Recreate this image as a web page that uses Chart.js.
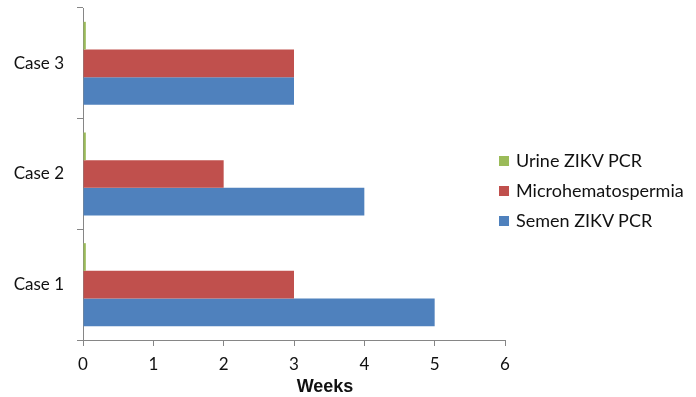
<!DOCTYPE html>
<html>
<head>
<meta charset="utf-8">
<script src="https://cdn.jsdelivr.net/npm/chart.js@4"></script>
<style>
  html, body { margin: 0; padding: 0; background: #fff; }
  #wrap { position: relative; width: 696px; height: 397px; }
  #legend { position: absolute; left: 499px; top: 147px; font-family: Lato, "Open Sans", sans-serif; font-size: 18px; color: #111; }
  #legend div { height: 30px; line-height: 26px; white-space: nowrap; }
  #legend span.box { display: inline-block; width: 10px; height: 10px; margin-right: 7px; vertical-align: 1px; }
  #xtitle { position: absolute; left: 275px; width: 100px; top: 376px; text-align: center; font-family: "Liberation Sans", Arial, sans-serif; font-weight: bold; font-size: 18px; color: #111; }
</style>
</head>
<body>
<div id="wrap">
  <canvas id="c" width="696" height="397"></canvas>
  <div id="legend"></div>
  <div id="xtitle">Weeks</div>
</div>
<script>
// Cases listed from top to bottom
const categories = ['Case 3', 'Case 2', 'Case 1'];
const urineWeeks = [0.04, 0.04, 0.04];
const microWeeks = [3, 2, 3];
const semenWeeks = [3, 4, 5];
const xTicks = [0, 1, 2, 3, 4, 5, 6];

const series = [
  { label: 'Urine ZIKV PCR', data: urineWeeks, color: '#9BBB59' },
  { label: 'Microhematospermia', data: microWeeks, color: '#C0504D' },
  { label: 'Semen ZIKV PCR', data: semenWeeks, color: '#4F81BD' }
];

const axisColor = '#868686';
const font = { family: 'Lato, "Open Sans", sans-serif', size: 17 };

new Chart(document.getElementById('c'), {
  type: 'bar',
  data: {
    labels: categories,
    datasets: series.map(s => ({
      label: s.label,
      data: s.data,
      backgroundColor: s.color,
      borderWidth: 0,
      categoryPercentage: 0.75,
      barPercentage: 1.0
    }))
  },
  options: {
    indexAxis: 'y',
    responsive: false,
    animation: false,
    layout: { padding: { top: 8, right: 191, left: 0, bottom: 0 } },
    plugins: { legend: { display: false }, tooltip: { enabled: false } },
    scales: {
      x: {
        min: xTicks[0],
        max: xTicks[xTicks.length - 1],
        afterBuildTicks: scale => { scale.ticks = xTicks.map(v => ({ value: v })); },
        afterFit: scale => { scale.height = 57; },
        border: { color: axisColor, width: 1 },
        grid: { drawOnChartArea: false, color: axisColor, tickLength: 6 },
        ticks: { color: '#111', font: font, padding: 8 }
      },
      y: {
        afterFit: scale => {
          scale.width = 83;
          scale.paddingTop = 0;
          scale.paddingBottom = 0;
        },
        border: { color: axisColor, width: 1 },
        grid: { drawOnChartArea: false, color: axisColor, tickLength: 6, offset: true },
        ticks: { color: '#111', font: font, padding: 13 }
      }
    }
  }
});

// Legend beside the plot
const legend = document.getElementById('legend');
series.forEach(s => {
  const row = document.createElement('div');
  const box = document.createElement('span');
  box.className = 'box';
  box.style.background = s.color;
  row.appendChild(box);
  row.appendChild(document.createTextNode(s.label));
  legend.appendChild(row);
});
</script>
</body>
</html>
